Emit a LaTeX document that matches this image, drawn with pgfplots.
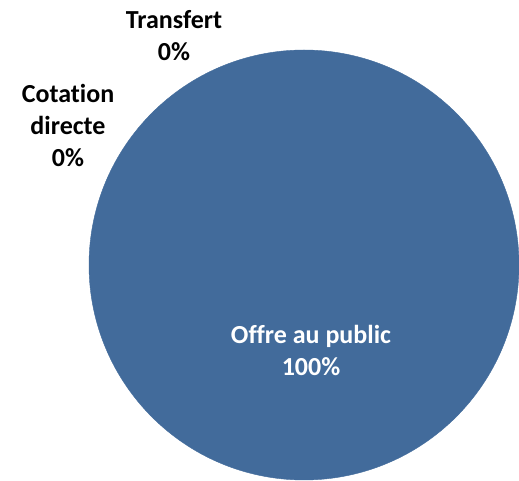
\documentclass[border=0pt]{standalone}
\usepackage{pgfplots}
\pgfplotsset{compat=1.18}
\usepackage{fontspec}
\setmainfont[Ligatures=NoCommon]{Carlito}
\definecolor{pieblue}{HTML}{426B9B}

\begin{document}
\begin{tikzpicture}
\begin{axis}[
  set layers,
  scale only axis,
  width=519pt, height=481pt,
  xmin=0, xmax=519,
  ymin=0, ymax=481,
  y dir=reverse,
  axis line style={draw=none},
  ticks=none,
  clip=false,
  font=\fontsize{26}{32}\selectfont\bfseries,
]
  % one slice only: Offre au public = 100%
  \addplot[only marks, mark=*, mark size=215pt,
    mark options={fill=pieblue, draw=pieblue}]
    coordinates {(304,265)};
  \begin{pgfonlayer}{axis foreground}
  \node[align=center, text=white] at (axis cs:311,350) {Offre au public\\100\%};
  \node[align=center] at (axis cs:174,36) {Transfert\\0\%};
  \node[align=center] at (axis cs:68,125) {Cotation\\directe\\0\%};
  \end{pgfonlayer}
\end{axis}
\end{tikzpicture}
\end{document}
